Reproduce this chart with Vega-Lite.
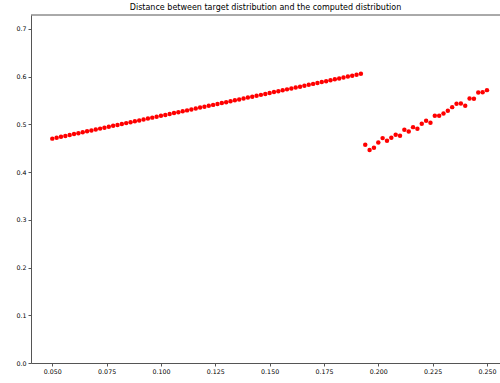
{
  "$schema": "https://vega.github.io/schema/vega-lite/v6.json",
  "autosize": "none",
  "width": 469,
  "height": 348,
  "padding": {"left": 31, "top": 15, "right": 0, "bottom": 20},
  "background": "white",
  "title": {
    "text": "Distance between target distribution and the computed distribution",
    "font": "DejaVu Sans",
    "fontSize": 8,
    "fontWeight": "normal",
    "color": "black",
    "anchor": "middle",
    "baseline": "bottom",
    "offset": 5,
    "dy": 10.5
  },
  "config": {
    "view": {"stroke": null},
    "axis": {
      "grid": false,
      "labelFont": "DejaVu Sans",
      "labelFontSize": 6.3,
      "labelColor": "black",
      "domainColor": "#555",
      "domainWidth": 1,
      "tickColor": "#555",
      "tickSize": 3,
      "labelPadding": 2,
      "title": null
    }
  },
  "datasets": {
    "pts": [
      {"x": 0.050, "y": 0.4700}, {"x": 0.052, "y": 0.4719}, {"x": 0.054, "y": 0.4738}, {"x": 0.056, "y": 0.4757},
      {"x": 0.058, "y": 0.4776}, {"x": 0.060, "y": 0.4796}, {"x": 0.062, "y": 0.4815}, {"x": 0.064, "y": 0.4834},
      {"x": 0.066, "y": 0.4853}, {"x": 0.068, "y": 0.4872}, {"x": 0.070, "y": 0.4891}, {"x": 0.072, "y": 0.4910},
      {"x": 0.074, "y": 0.4929}, {"x": 0.076, "y": 0.4948}, {"x": 0.078, "y": 0.4968}, {"x": 0.080, "y": 0.4987},
      {"x": 0.082, "y": 0.5006}, {"x": 0.084, "y": 0.5025}, {"x": 0.086, "y": 0.5044}, {"x": 0.088, "y": 0.5063},
      {"x": 0.090, "y": 0.5082}, {"x": 0.092, "y": 0.5101}, {"x": 0.094, "y": 0.5120}, {"x": 0.096, "y": 0.5140},
      {"x": 0.098, "y": 0.5159}, {"x": 0.100, "y": 0.5178}, {"x": 0.102, "y": 0.5197}, {"x": 0.104, "y": 0.5216},
      {"x": 0.106, "y": 0.5235}, {"x": 0.108, "y": 0.5254}, {"x": 0.110, "y": 0.5273}, {"x": 0.112, "y": 0.5292},
      {"x": 0.114, "y": 0.5312}, {"x": 0.116, "y": 0.5331}, {"x": 0.118, "y": 0.5350}, {"x": 0.120, "y": 0.5369},
      {"x": 0.122, "y": 0.5388}, {"x": 0.124, "y": 0.5407}, {"x": 0.126, "y": 0.5426}, {"x": 0.128, "y": 0.5445},
      {"x": 0.130, "y": 0.5464}, {"x": 0.132, "y": 0.5484}, {"x": 0.134, "y": 0.5503}, {"x": 0.136, "y": 0.5522},
      {"x": 0.138, "y": 0.5541}, {"x": 0.140, "y": 0.5560}, {"x": 0.142, "y": 0.5579}, {"x": 0.144, "y": 0.5598},
      {"x": 0.146, "y": 0.5617}, {"x": 0.148, "y": 0.5636}, {"x": 0.150, "y": 0.5656}, {"x": 0.152, "y": 0.5675},
      {"x": 0.154, "y": 0.5694}, {"x": 0.156, "y": 0.5713}, {"x": 0.158, "y": 0.5732}, {"x": 0.160, "y": 0.5751},
      {"x": 0.162, "y": 0.5770}, {"x": 0.164, "y": 0.5789}, {"x": 0.166, "y": 0.5808}, {"x": 0.168, "y": 0.5828},
      {"x": 0.170, "y": 0.5847}, {"x": 0.172, "y": 0.5866}, {"x": 0.174, "y": 0.5885}, {"x": 0.176, "y": 0.5904},
      {"x": 0.178, "y": 0.5923}, {"x": 0.180, "y": 0.5942}, {"x": 0.182, "y": 0.5961}, {"x": 0.184, "y": 0.5980},
      {"x": 0.186, "y": 0.6000}, {"x": 0.188, "y": 0.6019}, {"x": 0.190, "y": 0.6038}, {"x": 0.192, "y": 0.6057},
      {"x": 0.194, "y": 0.4571}, {"x": 0.196, "y": 0.4460}, {"x": 0.198, "y": 0.4508}, {"x": 0.200, "y": 0.4619},
      {"x": 0.202, "y": 0.4711}, {"x": 0.204, "y": 0.4655}, {"x": 0.206, "y": 0.4717}, {"x": 0.208, "y": 0.4780},
      {"x": 0.210, "y": 0.4759}, {"x": 0.212, "y": 0.4885}, {"x": 0.214, "y": 0.4849}, {"x": 0.216, "y": 0.4941},
      {"x": 0.218, "y": 0.4906}, {"x": 0.220, "y": 0.5011}, {"x": 0.222, "y": 0.5073}, {"x": 0.224, "y": 0.5031},
      {"x": 0.226, "y": 0.5178}, {"x": 0.228, "y": 0.5178}, {"x": 0.230, "y": 0.5226}, {"x": 0.232, "y": 0.5283},
      {"x": 0.234, "y": 0.5360}, {"x": 0.236, "y": 0.5429}, {"x": 0.238, "y": 0.5436}, {"x": 0.240, "y": 0.5387},
      {"x": 0.242, "y": 0.5540}, {"x": 0.244, "y": 0.5534}, {"x": 0.246, "y": 0.5666}, {"x": 0.248, "y": 0.5674},
      {"x": 0.250, "y": 0.5716}
    ]
  },
  "layer": [
    {
      "data": {"values": [{"top": 0.729}]},
      "mark": {"type": "rule", "color": "#555", "strokeWidth": 1},
      "encoding": {"y": {"field": "top", "type": "quantitative", "scale": {"domain": [0, 0.729], "nice": false, "zero": false}}}
    },
    {
      "data": {"name": "pts"},
      "mark": {"type": "circle", "color": "#ff0000", "opacity": 1, "size": 20},
      "encoding": {
        "x": {
          "field": "x", "type": "quantitative",
          "scale": {"domain": [0.0402, 0.2560], "nice": false, "zero": false},
          "axis": {"values": [0.05, 0.075, 0.1, 0.125, 0.15, 0.175, 0.2, 0.225, 0.25], "format": ".3f"}
        },
        "y": {
          "field": "y", "type": "quantitative",
          "scale": {"domain": [0, 0.729], "nice": false, "zero": false},
          "axis": {"values": [0, 0.1, 0.2, 0.3, 0.4, 0.5, 0.6, 0.7], "format": ".1f"}
        }
      }
    }
  ]
}
